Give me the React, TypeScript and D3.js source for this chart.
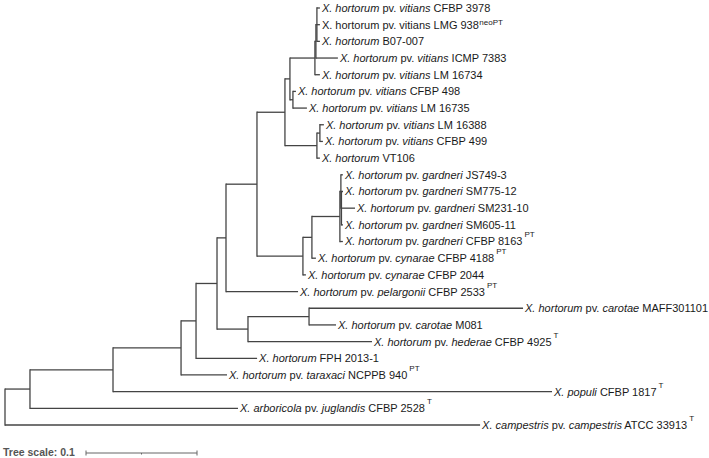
import React from "react";
import * as d3 from "d3";

// Tree topology (preorder), parent links and branch lengths (substitutions/site)
const nodeIds = [
  "root", "N1", "N2", "N3", "N4", "N5", "N6", "N9", "A", "B", "D", "F", "E",
  "L1", "L2", "L3", "L4", "L5", "C", "L6", "L7", "VT", "G", "L8", "L9", "L10",
  "H", "I", "J", "P", "L11", "K", "L12", "L13", "L14", "L15", "L16", "L17", "L18",
  "N7", "N8", "L19", "L20", "L21", "L22", "L23", "L24", "L25", "L26",
];
const parentIds = [
  "", "root", "N1", "N2", "N3", "N4", "N5", "N6", "N9", "A", "B", "D", "F",
  "E", "E", "E", "F", "D", "B", "C", "C", "A", "VT", "G", "G", "VT",
  "N9", "H", "I", "J", "P", "P", "K", "K", "K", "J", "I", "H", "N6",
  "N5", "N7", "N8", "N8", "N7", "N4", "N3", "N2", "N1", "root",
];
const branchLengths = [
  0, 0.0225, 0.0748, 0.0613, 0.0135, 0.0189, 0.0081, 0.0279, 0.0252, 0.0045, 0.0225, 0.0009, 0.0009,
  0.0027, 0.0027, 0.0027, 0.0198, 0.0045, 0.0027, 0.0027, 0.0126, 0.0288, 0.0027, 0.0036, 0.0027, 0.0027,
  0.0414, 0.0081, 0.0252, 0.0009, 0.0018, 0.0005, 0.0014, 0.0122, 0.0014, 0.0027, 0.0036, 0.0027, 0.0649,
  0.0279, 0.055, 0.1928, 0.0243, 0.1117, 0.055, 0.0414, 0.3955, 0.1874, 0.428,
];

// Leaf labels, in display order L1..L26
const leafIds = [
  "L1", "L2", "L3", "L4", "L5", "L6", "L7", "L8", "L9", "L10", "L11", "L12", "L13",
  "L14", "L15", "L16", "L17", "L18", "L19", "L20", "L21", "L22", "L23", "L24", "L25", "L26",
];
const leafSpecies = [
  "X. hortorum", "X. hortorum", "X. hortorum", "X. hortorum", "X. hortorum", "X. hortorum",
  "X. hortorum", "X. hortorum", "X. hortorum", "X. hortorum", "X. hortorum", "X. hortorum",
  "X. hortorum", "X. hortorum", "X. hortorum", "X. hortorum", "X. hortorum", "X. hortorum",
  "X. hortorum", "X. hortorum", "X. hortorum", "X. hortorum", "X. hortorum", "X. populi",
  "X. arboricola", "X. campestris",
];
const leafPathovar = [
  "vitians", "vitians", "", "vitians", "vitians", "vitians", "vitians", "vitians", "vitians", "",
  "gardneri", "gardneri", "gardneri", "gardneri", "gardneri", "cynarae", "cynarae", "pelargonii",
  "carotae", "carotae", "hederae", "", "taraxaci", "", "juglandis", "campestris",
];
const leafStrain = [
  "CFBP 3978", "LMG 938", "B07-007", "ICMP 7383", "LM 16734", "CFBP 498", "LM 16735", "LM 16388",
  "CFBP 499", "VT106", "JS749-3", "SM775-12", "SM231-10", "SM605-11", "CFBP 8163", "CFBP 4188",
  "CFBP 2044", "CFBP 2533", "MAFF301101", "M081", "CFBP 4925", "FPH 2013-1", "NCPPB 940",
  "CFBP 1817", "CFBP 2528", "ATCC 33913",
];
const leafSup = [
  "", "neoPT", "", "", "", "", "", "", "", "", "", "", "", "", "PT", "PT", "", "PT", "", "",
  "T", "", "PT", "T", "T", "T",
];
const leafUpright = ["L2"];

const scaleValue = 0.1;
const scaleLabel = "Tree scale: 0.1";

const W = 709;
const H = 458;

export default function App() {
  const rows = nodeIds.map((id, i) => ({ id, parent: parentIds[i] || null, len: branchLengths[i] }));
  const root = d3
    .stratify<any>()
    .id((d: any) => d.id)
    .parentId((d: any) => d.parent)(rows);

  const dist = new Map<string, number>();
  root.eachBefore((n: any) => {
    dist.set(n.id, (n.parent ? dist.get(n.parent.id)! : 0) + n.data.len);
  });

  const x = d3.scaleLinear().domain([0, 0.1]).range([5, 116]);
  const leafIndex = d3.scaleLinear().domain([0, leafIds.length - 1]).range([8, 425]);

  const ypos = new Map<string, number>();
  root.eachAfter((n: any) => {
    if (!n.children) {
      ypos.set(n.id, leafIndex(leafIds.indexOf(n.id)));
    } else {
      const first = ypos.get(n.children[0].id)!;
      const last = ypos.get(n.children[n.children.length - 1].id)!;
      ypos.set(n.id, (first + last) / 2);
    }
  });

  const lineColor = "#444";
  const segs: JSX.Element[] = [];
  root.each((n: any) => {
    const nx = x(dist.get(n.id)!);
    const ny = ypos.get(n.id)!;
    if (n.children) {
      const ys = n.children.map((c: any) => ypos.get(c.id)!);
      segs.push(
        <line key={"v" + n.id} x1={nx} x2={nx} y1={Math.min(...ys)} y2={Math.max(...ys)}
          stroke={lineColor} strokeWidth={1.3} strokeLinecap="square" />
      );
    }
    if (n.parent) {
      const px = x(dist.get(n.parent.id)!);
      segs.push(
        <line key={"h" + n.id} x1={px} x2={nx} y1={ny} y2={ny}
          stroke={lineColor} strokeWidth={1.3} />
      );
    }
  });

  const labels = leafIds.map((id, i) => {
    const lx = x(dist.get(id)!) + 2;
    const ly = ypos.get(id)!;
    const it = leafUpright.includes(id) ? "normal" : "italic";
    const sup = leafSup[i];
    return (
      <text key={"t" + id} x={lx} y={ly} dy="0.36em" fontSize={11} fill="#1a1a1a"
        fontFamily="'Liberation Sans', Arial, Helvetica, sans-serif">
        <tspan fontStyle={it}>{leafSpecies[i]}</tspan>
        {leafPathovar[i] ? <tspan> pv. </tspan> : <tspan> </tspan>}
        {leafPathovar[i] ? <tspan fontStyle={it}>{leafPathovar[i]}</tspan> : null}
        {leafPathovar[i] ? <tspan> {leafStrain[i]}</tspan> : <tspan>{leafStrain[i]}</tspan>}
        {sup ? (
          <tspan fontSize={8} dx={sup === "neoPT" ? 0.5 : 2} dy={sup === "neoPT" ? -4 : -8}>{sup}</tspan>
        ) : null}
      </text>
    );
  });

  const sx0 = 86;
  const sx1 = sx0 + (x(scaleValue) - x(0));
  const sy = 453;

  return (
    <svg width={W} height={H} style={{ position: "absolute", left: 0, top: 0, background: "#fff" }}>
      <rect width={W} height={H} fill="#fff" />
      {segs}
      {labels}
      <text x={3} y={sy - 1} dy="0.36em" fontSize={10.5} fontWeight="bold" fill="#555"
        fontFamily="'Liberation Sans', Arial, Helvetica, sans-serif">{scaleLabel}</text>
      <line x1={sx0} x2={sx1} y1={sy} y2={sy} stroke="#666" strokeWidth={1} />
      <line x1={sx0} x2={sx0} y1={sy - 2.5} y2={sy + 2.5} stroke="#666" strokeWidth={1} />
      <line x1={sx1} x2={sx1} y1={sy - 2.5} y2={sy + 2.5} stroke="#666" strokeWidth={1} />
      <line x1={(sx0 + sx1) / 2} x2={(sx0 + sx1) / 2} y1={sy} y2={sy + 1.5} stroke="#666" strokeWidth={1} />
    </svg>
  );
}
